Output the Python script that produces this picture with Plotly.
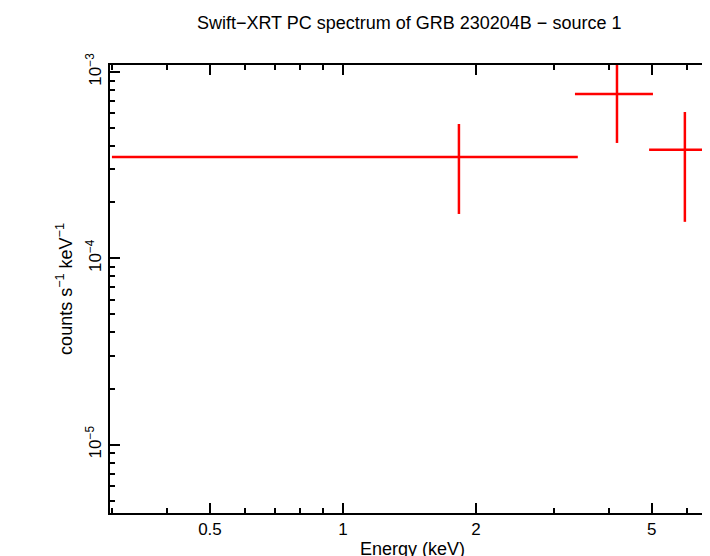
import plotly.graph_objects as go
import numpy as np

# spectral bins
energy = [1.83, 4.17, 5.94]
e_lo = [0.30, 3.35, 4.93]
e_hi = [3.40, 5.03, 6.95]
rate = [3.5e-4, 7.62e-4, 3.82e-4]
rate_lo = [1.73e-4, 4.16e-4, 1.57e-4]
rate_hi = [5.26e-4, 1.15e-3, 6.1e-4]

ytick_vals = [1e-5, 1e-4, 1e-3]
ytick_text = ["10<sup>−5</sup>", "10<sup>−4</sup>", "10<sup>−3</sup>"]
xtick_vals = [0.5, 1, 2, 5]
xtick_text = ["0.5", "1", "2", "5"]

fig = go.Figure()
for x, xl, xh, y, yl, yh in zip(energy, e_lo, e_hi, rate, rate_lo, rate_hi):
    fig.add_trace(go.Scatter(x=[xl, xh], y=[y, y], mode="lines",
                             line=dict(color="#ff0000", width=2.5), showlegend=False))
    fig.add_trace(go.Scatter(x=[x, x], y=[yl, yh], mode="lines",
                             line=dict(color="#ff0000", width=2.5), showlegend=False))

axis_style = dict(showgrid=False, zeroline=False, showline=True, linecolor="black",
                  linewidth=2, mirror="allticks", ticks="inside", ticklen=10,
                  tickwidth=1.5, tickcolor="black", automargin=False,
                  tickfont=dict(family="Liberation Sans", size=17, color="black"))

fig.update_xaxes(type="log", range=[np.log10(0.297), np.log10(6.95)],
                 tickvals=xtick_vals, ticktext=xtick_text,
                 minor=dict(ticks="inside", ticklen=5, tickcolor="black",
                            tickvals=[0.3, 0.4, 0.6, 0.7, 0.8, 0.9, 3, 4, 6]),
                 title=dict(text="Energy (keV)", standoff=4,
                            font=dict(family="Liberation Sans", size=18, color="black")),
                 **axis_style)
fig.update_yaxes(type="log", range=[np.log10(4.3e-6), np.log10(1.09e-3)],
                 tickvals=ytick_vals, ticktext=ytick_text, tickangle=-90,
                 minor=dict(ticks="inside", ticklen=5, tickcolor="black",
                            tickvals=[a * b for b in [1e-6, 1e-5, 1e-4] for a in range(2, 10)]),
                 title=dict(text="counts s<sup>−1</sup> keV<sup>−1</sup>", standoff=6,
                            font=dict(family="Liberation Sans", size=18, color="black")),
                 **axis_style)

fig.update_layout(
    width=710, height=556,
    margin=dict(l=102, r=3, t=57, b=51),
    plot_bgcolor="white", paper_bgcolor="white",
    title=dict(text="Swift−XRT PC spectrum of GRB 230204B − source 1",
               x=0.565, xanchor="center", y=0.985, yanchor="top",
               font=dict(family="Liberation Sans", size=18, color="black")),
)

fig.write_html("out.html")
